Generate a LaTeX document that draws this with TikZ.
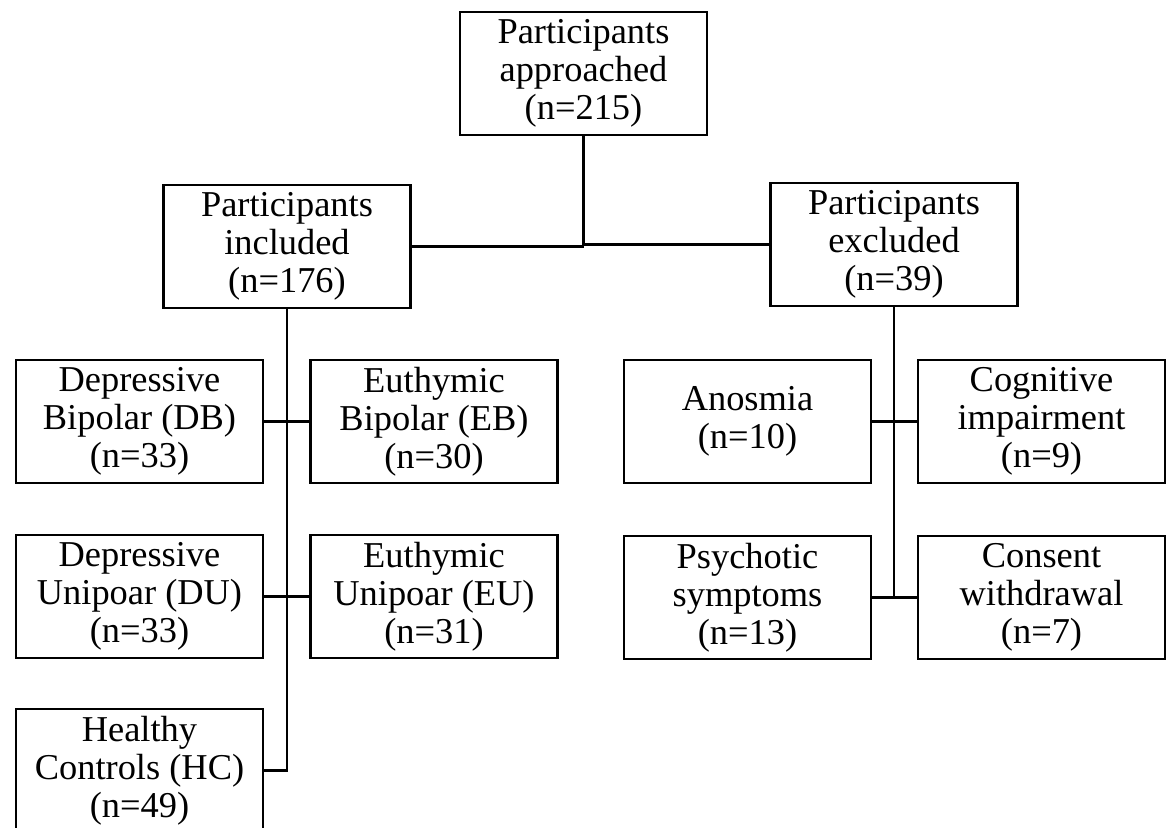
\documentclass[tikz,border=0pt]{standalone}
\usepackage{fontspec}
\setmainfont{Liberation Serif}
\usepackage{tikz}
\usetikzlibrary{positioning}

\begin{document}
\begin{tikzpicture}[x=0.5pt,y=-0.5pt,line width=1.3pt,
  box/.style={draw,rectangle,minimum width=123.5pt,minimum height=61.5pt,inner sep=0pt,align=center,font=\fontsize{18.2}{19}\selectfont}]
\useasboundingbox (0,0) rectangle (1171,828);
\node[box] (appr) at (583.5,73.5) {Participants\\approached\\(n=215)};
\node[box] (incl) at (287,246.5) {Participants\\included\\(n=176)};
\node[box] (excl) at (894,244.5) {Participants\\excluded\\(n=39)};
\node[box] (db) at (139.5,421.5) {Depressive\\Bipolar (DB)\\(n=33)};
\node[box] (eb) at (434,421.5) {Euthymic\\Bipolar (EB)\\(n=30)};
\node[box] (du) at (139.5,596.5) {Depressive\\Unipoar (DU)\\(n=33)};
\node[box] (eu) at (434,596.5) {Euthymic\\Unipoar (EU)\\(n=31)};
\node[box] (hc) at (139.5,770.5) {Healthy\\Controls (HC)\\(n=49)};
\node[box] (an) at (747.5,421.5) {Anosmia\\(n=10)};
\node[box] (cog) at (1041.5,421.5) {Cognitive\\impairment\\(n=9)};
\node[box] (ps) at (747.5,597.5) {Psychotic\\symptoms\\(n=13)};
\node[box] (con) at (1041.5,597.5) {Consent\\withdrawal\\(n=7)};
\draw (appr.south) -- (appr.south |- incl.east);
\draw (incl.east) -- (appr.south |- incl.east);
\draw (appr.south |- excl.west) -- (excl.west);
\draw (incl.south) -- (incl.south |- hc.east) -- (hc.east);
\draw (db.east) -- (eb.west);
\draw (du.east) -- (eu.west);
\draw (excl.south) -- (excl.south |- con.west);
\draw (an.east) -- (cog.west);
\draw (ps.east) -- (con.west);
\end{tikzpicture}
\end{document}
